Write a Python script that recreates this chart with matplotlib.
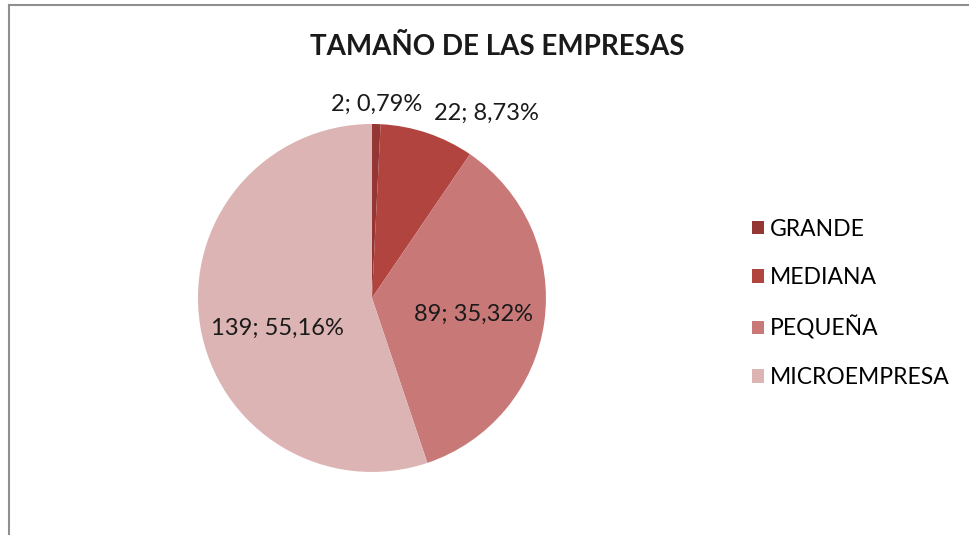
import numpy as np
import matplotlib.pyplot as plt
from matplotlib.patches import Patch
from matplotlib.lines import Line2D

plt.rcParams['font.family'] = ['Lato', 'DejaVu Sans']

categories = ['GRANDE', 'MEDIANA', 'PEQUEÑA', 'MICROEMPRESA']
counts = [2, 22, 89, 139]
pct_labels = ['0,79%', '8,73%', '35,32%', '55,16%']
colors = ['#943634', '#B2443F', '#C87877', '#DDB4B4']

fig = plt.figure(figsize=(9.69, 5.35), dpi=100)

# pie axes: centre ~ (372, 298) px, radius ~174 px
ax = fig.add_axes([0.2043, 0.1178, 0.3591, 0.6505])
wedges, _ = ax.pie(counts, colors=colors, startangle=90, counterclock=False,
                   wedgeprops=dict(linewidth=0))
ax.set_aspect('equal')
ax.set_xlim(-1, 1)
ax.set_ylim(-1, 1)

# label placement: (radius, angle nudge in degrees, horizontal alignment)
label_pos = [(1.115, 0, 'center'), (1.12, 0, 'left'), (0.59, -1.5, 'center'), (0.57, 8.5, 'center')]
for w, n, p, (r, da, ha) in zip(wedges, counts, pct_labels, label_pos):
    ang = np.deg2rad((w.theta1 + w.theta2) / 2 + da)
    ax.text(r * np.cos(ang), r * np.sin(ang), f'{n}; {p}', ha=ha, va='center',
            fontsize=17, color='#1a1a1a')

fig.text(0.513, 0.912, 'TAMAÑO DE LAS EMPRESAS', ha='center', va='center',
         fontsize=20, fontweight='bold', color='#1a1a1a')

handles = [Patch(facecolor=c, edgecolor='none') for c in colors]
fig.legend(handles, categories, loc='center left', bbox_to_anchor=(0.764, 0.433),
           frameon=False, fontsize=16.5, handlelength=0.55, handleheight=0.55,
           handletextpad=0.25, labelspacing=1.2, borderpad=0)

# chart-area border (only top and left visible in the crop)
fig.add_artist(Line2D([8.5 / 969, 8.5 / 969], [0, 1 - 5 / 535], color='#8f8f8f', lw=1.5))
fig.add_artist(Line2D([8.5 / 969, 1], [1 - 5 / 535, 1 - 5 / 535], color='#8f8f8f', lw=1.5))

fig.savefig('out.png', dpi=100)
